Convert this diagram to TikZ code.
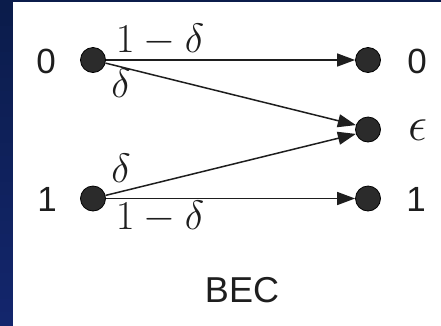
\RequirePackage{fix-cm}
\documentclass[tikz,border=0pt]{standalone}
\usepackage{fontspec}
\setmainfont{Liberation Sans}
\usetikzlibrary{arrows.meta}
\definecolor{navytop}{HTML}{0B1C4B}
\definecolor{navybot}{HTML}{13266C}
\definecolor{ink}{HTML}{1E1E1E}
\definecolor{dotfill}{HTML}{2B2B2B}
\tikzset{
  sym/.style={circle, fill=dotfill, draw=black, line width=0.8pt,
    minimum size=25pt, inner sep=0pt},
  lab/.style={font=\fontsize{35}{40}\selectfont, text=ink, inner sep=0pt},
  mlab/.style={font=\fontsize{41}{46}\selectfont, text=ink, inner sep=0pt,
    anchor=base},
  chan/.style={draw=ink, line width=1.5pt,
    -{Triangle[length=18pt,width=13pt]}},
}
\begin{document}
\begin{tikzpicture}[x=1pt,y=-1pt]
\useasboundingbox (0,0) rectangle (441,325);
% frame: white panel with a navy strip on top and a graded navy bar on the left
\fill[white] (0,0) rectangle (460,345);
\fill[navytop] (0,-5) rectangle (460,2);
\foreach \i in {0,...,26}{
  \pgfmathsetmacro{\p}{min(100,\i*100/24)}
  \fill[navybot!\p!navytop] (-5,{13*\i}) rectangle (13,{13*\i+13.5});
}

% channel symbols
\node[sym] (a0) at (93,60) {};
\node[sym] (a1) at (93,198.5) {};
\node[sym] (b0) at (368,60) {};
\node[sym] (be) at (368,129.5) {};
\node[sym] (b1) at (368,198.5) {};

% input and output alphabet
\node[lab] (la0) at (46,61) {0};
\node[lab] (la1) at (47,199) {1};
\node[lab] (lb0) at (417,61) {0};
\node[lab, font=\fontsize{48}{52}\selectfont] (lbe) at (418,130) {$\epsilon$};
\node[lab] (lb1) at (416,199) {1};

% transitions
\draw[chan] (a0) -- (b0);
\draw[chan] (a0) -- (be.160);
\draw[chan] (a1) -- (be.200);
\draw[chan] (a1) -- (b1);

% transition probabilities
\node[mlab] (p00) at (160,52) {$1-\delta$};
\node[mlab] (p0e) at (121,97) {$\delta$};
\node[mlab] (p1e) at (121,182) {$\delta$};
\node[mlab] (p11) at (160,229) {$1-\delta$};

% caption
\node[lab, anchor=base, font=\fontsize{36}{42}\selectfont] (title) at (242,302) {BEC};
\end{tikzpicture}
\end{document}
